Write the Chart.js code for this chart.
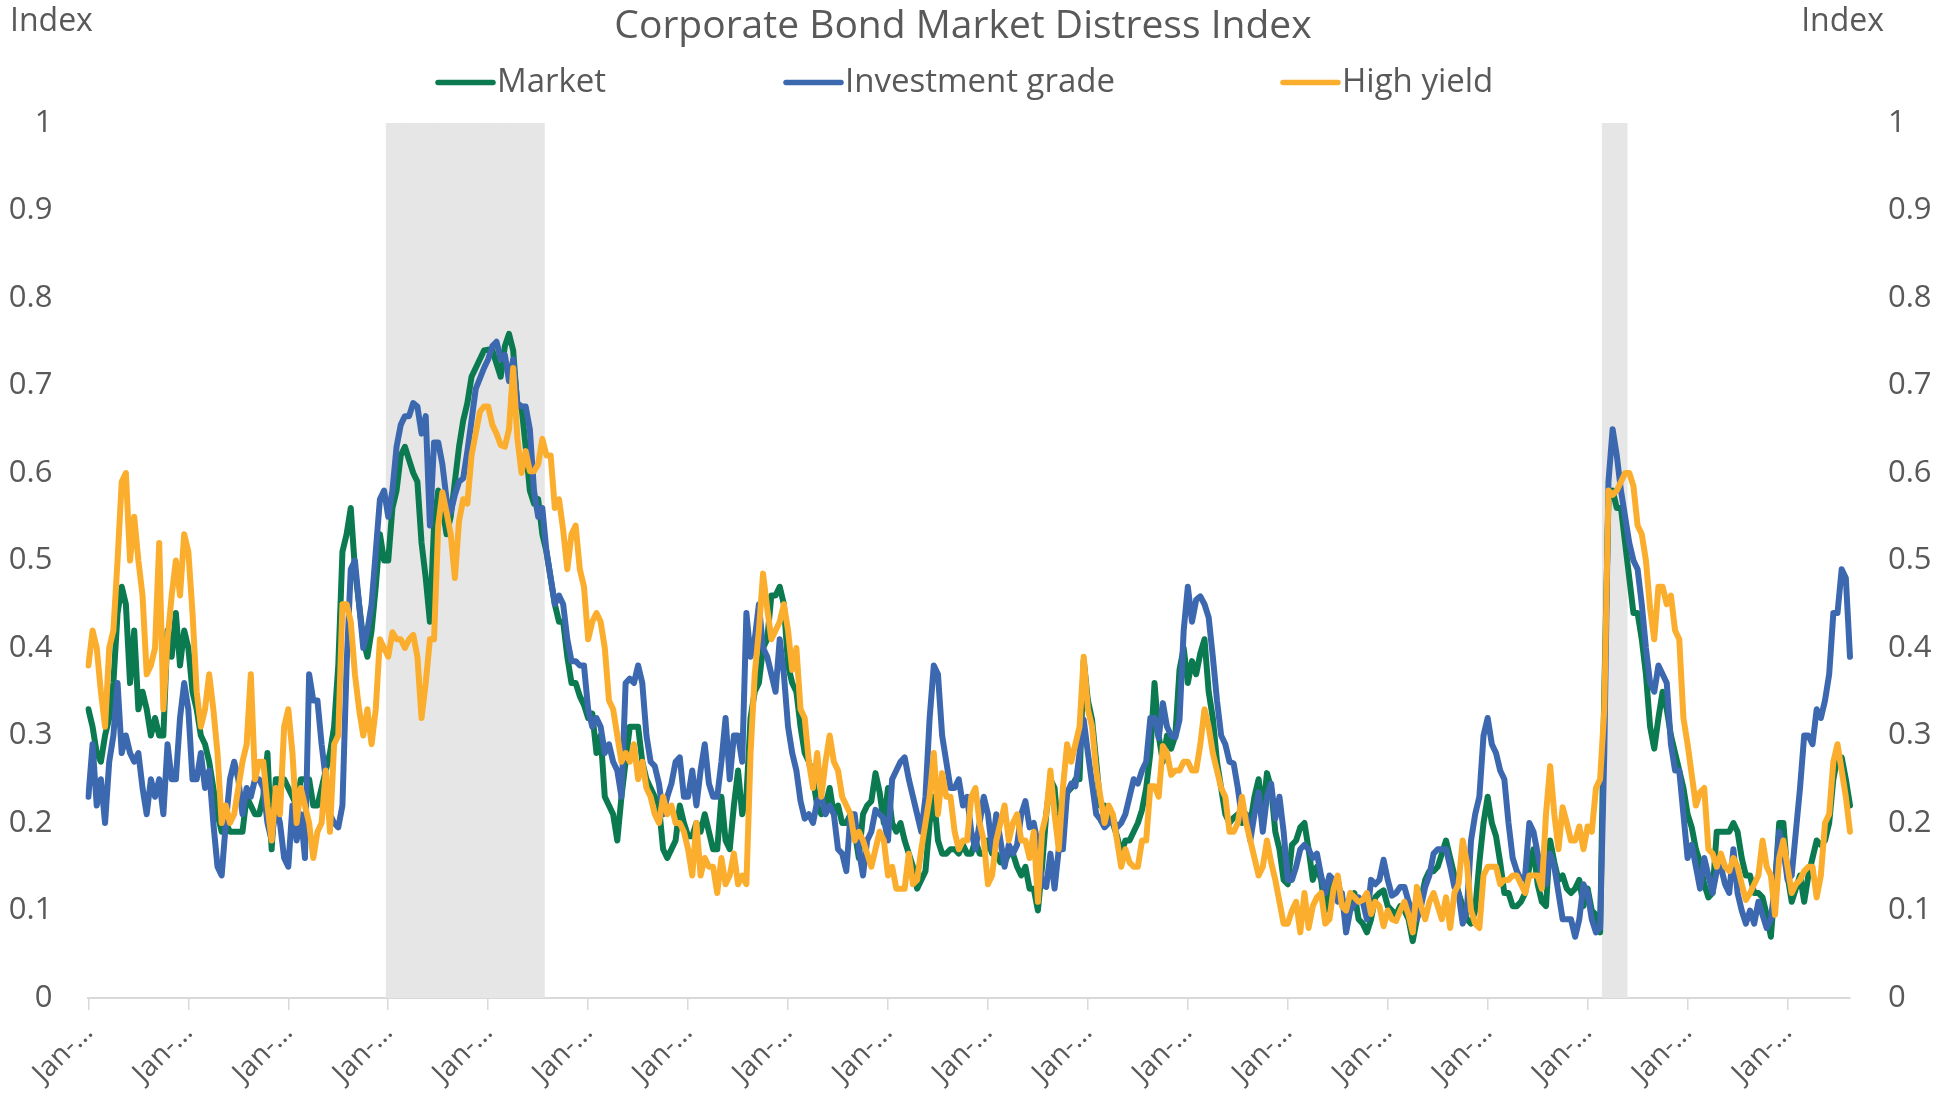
<!DOCTYPE html>
<html>
<head>
<meta charset="utf-8">
<title>Corporate Bond Market Distress Index</title>
<script src="https://cdn.jsdelivr.net/npm/chart.js@4/dist/chart.umd.min.js"></script>
<style>
  html, body { margin: 0; padding: 0; background: #ffffff; }
  #wrap { width: 1934px; height: 1094px; position: relative; }
</style>
</head>
<body>
<div id="wrap"><canvas id="cmdi" width="1934" height="1094"></canvas></div>
<script>
// ---- Text ----
const chartTitle = 'Corporate Bond Market Distress Index';
const axisUnit = 'Index';
const seriesNames = ['Market', 'Investment grade', 'High yield'];
const monthAbbr = ['Jan', 'Feb', 'Mar', 'Apr', 'May', 'Jun', 'Jul', 'Aug', 'Sep', 'Oct', 'Nov', 'Dec'];

// ---- Calendar: semi-monthly observations from January 2005 ----
const years = [2005, 2006, 2007, 2008, 2009, 2010, 2011, 2012, 2013, 2014, 2015, 2016, 2017, 2018, 2019, 2020, 2021, 2022];
const obsDays = [1, 16];

// ---- Recession periods (shaded) ----
const recessions = [['2008-01-01', '2009-07-16'], ['2020-03-01', '2020-05-16']];

// ---- Index values, one row per year ----
const market = [
  0.33,0.31,0.28,0.27,0.30,0.32,0.36,0.44,0.47,0.45,0.36,0.42,0.33,0.35,0.33,0.30,0.32,0.30,0.30,0.42,0.39,0.44,0.38,0.42,
  0.40,0.35,0.33,0.30,0.29,0.27,0.24,0.21,0.19,0.20,0.19,0.19,0.19,0.19,0.23,0.22,0.21,0.21,0.23,0.28,0.17,0.25,0.25,0.25,
  0.24,0.23,0.22,0.25,0.25,0.25,0.22,0.22,0.24,0.26,0.28,0.31,0.38,0.51,0.53,0.56,0.49,0.45,0.41,0.39,0.42,0.47,0.53,0.50,
  0.50,0.56,0.58,0.62,0.63,0.615,0.60,0.59,0.52,0.48,0.43,0.54,0.58,0.56,0.53,0.55,0.59,0.63,0.66,0.68,0.71,0.72,0.73,0.74,
  0.741,0.74,0.725,0.71,0.745,0.759,0.74,0.676,0.676,0.63,0.58,0.565,0.57,0.53,0.51,0.48,0.45,0.43,0.43,0.39,0.36,0.36,0.345,0.335,
  0.32,0.325,0.28,0.30,0.23,0.22,0.21,0.18,0.23,0.27,0.31,0.31,0.31,0.27,0.25,0.24,0.23,0.22,0.17,0.16,0.17,0.18,0.22,0.20,
  0.185,0.185,0.20,0.19,0.21,0.19,0.17,0.17,0.23,0.18,0.17,0.22,0.26,0.21,0.23,0.32,0.35,0.36,0.40,0.41,0.46,0.46,0.47,0.45,
  0.38,0.36,0.35,0.31,0.28,0.27,0.25,0.22,0.21,0.22,0.24,0.21,0.22,0.20,0.20,0.21,0.19,0.16,0.21,0.22,0.225,0.257,0.235,0.20,
  0.24,0.20,0.19,0.20,0.18,0.165,0.15,0.125,0.135,0.145,0.20,0.23,0.18,0.165,0.165,0.17,0.17,0.165,0.175,0.165,0.165,0.18,0.165,0.165,
  0.18,0.165,0.165,0.155,0.155,0.165,0.165,0.15,0.14,0.15,0.125,0.125,0.10,0.15,0.21,0.25,0.24,0.185,0.20,0.235,0.24,0.25,0.25,0.386,
  0.34,0.318,0.27,0.22,0.22,0.21,0.20,0.185,0.165,0.18,0.18,0.19,0.20,0.215,0.24,0.28,0.36,0.30,0.27,0.30,0.285,0.30,0.375,0.40,
  0.36,0.385,0.37,0.394,0.41,0.35,0.32,0.27,0.24,0.21,0.20,0.206,0.21,0.20,0.205,0.20,0.23,0.25,0.21,0.257,0.24,0.19,0.17,0.135,
  0.13,0.175,0.18,0.195,0.20,0.17,0.135,0.15,0.135,0.10,0.12,0.135,0.135,0.11,0.11,0.105,0.12,0.09,0.085,0.075,0.09,0.115,0.12,0.123,
  0.105,0.10,0.095,0.105,0.10,0.09,0.065,0.09,0.113,0.135,0.145,0.145,0.15,0.165,0.18,0.16,0.14,0.12,0.105,0.09,0.085,0.10,0.155,0.20,
  0.23,0.20,0.185,0.155,0.12,0.12,0.105,0.105,0.11,0.12,0.15,0.17,0.13,0.11,0.105,0.18,0.155,0.135,0.14,0.125,0.12,0.125,0.135,0.105,
  0.125,0.10,0.095,0.075,0.35,0.57,0.58,0.56,0.56,0.52,0.48,0.44,0.44,0.41,0.37,0.31,0.285,0.32,0.35,0.33,0.30,0.28,0.26,0.24,
  0.21,0.195,0.17,0.155,0.13,0.115,0.12,0.19,0.19,0.19,0.19,0.20,0.19,0.16,0.14,0.14,0.12,0.12,0.115,0.095,0.07,0.13,0.20,0.20,
  0.14,0.11,0.125,0.14,0.11,0.14,0.16,0.18,0.175,0.18,0.20,0.25,0.275,0.275,0.25,0.22
];

const investmentGrade = [
  0.23,0.29,0.22,0.25,0.20,0.27,0.30,0.36,0.28,0.30,0.28,0.27,0.28,0.24,0.21,0.25,0.23,0.25,0.21,0.29,0.25,0.25,0.32,0.36,
  0.33,0.25,0.25,0.28,0.24,0.26,0.20,0.15,0.14,0.20,0.25,0.27,0.25,0.21,0.24,0.23,0.25,0.25,0.24,0.20,0.18,0.22,0.20,0.16,
  0.15,0.22,0.18,0.21,0.16,0.37,0.34,0.34,0.29,0.25,0.21,0.20,0.195,0.22,0.38,0.49,0.50,0.45,0.40,0.42,0.45,0.51,0.57,0.58,
  0.55,0.58,0.63,0.655,0.665,0.665,0.68,0.676,0.645,0.665,0.54,0.635,0.635,0.61,0.57,0.555,0.575,0.59,0.594,0.625,0.66,0.696,0.708,0.72,
  0.73,0.745,0.75,0.73,0.735,0.705,0.73,0.68,0.676,0.676,0.65,0.58,0.55,0.56,0.51,0.48,0.45,0.46,0.45,0.41,0.385,0.385,0.38,0.38,
  0.33,0.31,0.32,0.31,0.28,0.29,0.27,0.26,0.23,0.36,0.365,0.36,0.38,0.36,0.30,0.27,0.265,0.245,0.21,0.23,0.245,0.27,0.275,0.23,
  0.23,0.26,0.22,0.26,0.29,0.245,0.23,0.23,0.27,0.32,0.25,0.30,0.30,0.27,0.44,0.39,0.41,0.45,0.40,0.39,0.37,0.35,0.41,0.37,
  0.31,0.28,0.26,0.225,0.205,0.21,0.20,0.225,0.23,0.21,0.22,0.21,0.17,0.165,0.145,0.21,0.21,0.17,0.14,0.18,0.19,0.215,0.21,0.205,
  0.18,0.25,0.26,0.27,0.275,0.25,0.23,0.21,0.19,0.23,0.32,0.38,0.37,0.30,0.27,0.24,0.24,0.25,0.22,0.23,0.19,0.17,0.20,0.23,
  0.21,0.17,0.21,0.18,0.15,0.175,0.165,0.175,0.21,0.225,0.195,0.20,0.175,0.13,0.127,0.165,0.125,0.17,0.17,0.234,0.245,0.242,0.28,0.318,
  0.28,0.245,0.21,0.204,0.195,0.20,0.204,0.195,0.20,0.21,0.23,0.25,0.245,0.26,0.27,0.32,0.32,0.297,0.337,0.31,0.30,0.298,0.318,0.42,
  0.47,0.43,0.455,0.459,0.45,0.435,0.39,0.34,0.30,0.29,0.27,0.268,0.24,0.205,0.21,0.18,0.21,0.235,0.19,0.23,0.245,0.205,0.23,0.19,
  0.135,0.135,0.15,0.17,0.175,0.17,0.16,0.165,0.14,0.12,0.14,0.135,0.11,0.12,0.075,0.10,0.107,0.115,0.11,0.09,0.135,0.13,0.135,0.158,
  0.135,0.117,0.12,0.127,0.127,0.11,0.10,0.09,0.105,0.127,0.14,0.165,0.17,0.17,0.17,0.15,0.127,0.12,0.085,0.10,0.18,0.21,0.23,0.30,
  0.32,0.29,0.28,0.26,0.25,0.20,0.16,0.145,0.135,0.14,0.20,0.19,0.165,0.14,0.13,0.165,0.15,0.12,0.09,0.09,0.09,0.07,0.09,0.13,
  0.12,0.09,0.075,0.08,0.28,0.59,0.65,0.62,0.58,0.55,0.52,0.50,0.49,0.45,0.40,0.36,0.35,0.38,0.37,0.36,0.29,0.26,0.26,0.21,
  0.16,0.175,0.15,0.125,0.16,0.14,0.12,0.145,0.15,0.13,0.12,0.17,0.12,0.10,0.085,0.10,0.085,0.11,0.095,0.08,0.09,0.13,0.19,0.17,
  0.135,0.14,0.19,0.24,0.30,0.30,0.29,0.33,0.32,0.34,0.37,0.44,0.44,0.49,0.48,0.39
];

const highYield = [
  0.38,0.42,0.40,0.35,0.31,0.40,0.42,0.50,0.59,0.60,0.50,0.55,0.50,0.46,0.37,0.38,0.40,0.52,0.33,0.41,0.46,0.50,0.46,0.53,
  0.51,0.44,0.35,0.31,0.33,0.37,0.33,0.28,0.20,0.22,0.20,0.21,0.24,0.27,0.29,0.37,0.25,0.27,0.27,0.22,0.18,0.24,0.21,0.31,
  0.33,0.28,0.20,0.24,0.22,0.20,0.16,0.19,0.20,0.26,0.19,0.29,0.30,0.45,0.45,0.43,0.37,0.33,0.30,0.33,0.29,0.33,0.41,0.40,
  0.39,0.418,0.41,0.41,0.40,0.41,0.415,0.39,0.32,0.36,0.41,0.41,0.54,0.578,0.555,0.53,0.48,0.545,0.57,0.565,0.62,0.645,0.67,0.676,
  0.676,0.655,0.645,0.632,0.63,0.65,0.72,0.64,0.60,0.625,0.602,0.602,0.61,0.639,0.62,0.62,0.56,0.57,0.535,0.49,0.53,0.54,0.49,0.47,
  0.41,0.43,0.44,0.43,0.40,0.34,0.33,0.30,0.27,0.28,0.27,0.29,0.25,0.27,0.24,0.23,0.21,0.20,0.23,0.21,0.22,0.20,0.20,0.19,
  0.17,0.14,0.20,0.14,0.16,0.15,0.15,0.12,0.16,0.13,0.14,0.165,0.13,0.14,0.13,0.28,0.37,0.42,0.485,0.445,0.41,0.42,0.43,0.45,
  0.42,0.375,0.40,0.33,0.32,0.27,0.24,0.28,0.23,0.27,0.30,0.27,0.26,0.23,0.22,0.21,0.18,0.19,0.18,0.165,0.15,0.17,0.19,0.18,
  0.14,0.15,0.125,0.125,0.125,0.165,0.13,0.135,0.17,0.20,0.23,0.28,0.21,0.257,0.23,0.23,0.19,0.17,0.18,0.18,0.23,0.24,0.20,0.18,
  0.13,0.14,0.18,0.20,0.22,0.18,0.20,0.21,0.18,0.18,0.16,0.19,0.11,0.19,0.21,0.26,0.21,0.17,0.24,0.29,0.27,0.29,0.31,0.39,
  0.33,0.31,0.26,0.23,0.20,0.22,0.21,0.18,0.15,0.17,0.155,0.15,0.15,0.18,0.18,0.242,0.242,0.23,0.288,0.28,0.255,0.26,0.26,0.27,
  0.27,0.26,0.26,0.29,0.33,0.31,0.28,0.26,0.24,0.23,0.19,0.19,0.20,0.23,0.20,0.18,0.16,0.14,0.15,0.18,0.155,0.135,0.11,0.085,
  0.085,0.10,0.11,0.075,0.12,0.08,0.105,0.115,0.12,0.085,0.09,0.125,0.14,0.105,0.10,0.12,0.115,0.11,0.112,0.12,0.096,0.11,0.105,0.082,
  0.10,0.09,0.088,0.10,0.11,0.095,0.075,0.127,0.105,0.09,0.11,0.12,0.105,0.09,0.115,0.08,0.12,0.13,0.18,0.155,0.10,0.085,0.08,0.14,
  0.15,0.15,0.15,0.13,0.135,0.135,0.14,0.14,0.13,0.12,0.14,0.14,0.14,0.125,0.21,0.265,0.21,0.17,0.218,0.20,0.18,0.18,0.196,0.17,
  0.196,0.19,0.24,0.25,0.33,0.58,0.575,0.58,0.59,0.60,0.60,0.585,0.54,0.53,0.50,0.445,0.41,0.47,0.47,0.45,0.46,0.42,0.41,0.32,
  0.29,0.255,0.22,0.235,0.24,0.17,0.165,0.15,0.165,0.15,0.145,0.16,0.15,0.13,0.112,0.12,0.13,0.14,0.18,0.15,0.14,0.095,0.16,0.18,
  0.15,0.12,0.13,0.135,0.145,0.15,0.15,0.115,0.14,0.20,0.21,0.27,0.29,0.26,0.23,0.19
];

// ---- Build the date categories ----
const pad2 = n => String(n).padStart(2, '0');
const dates = [];
for (const y of years) {
  for (let m = 0; m < 12; m++) {
    for (const d of obsDays) {
      if (dates.length < market.length) dates.push(`${y}-${pad2(m + 1)}-${pad2(d)}`);
    }
  }
}
const recessionBars = dates.map(d => recessions.some(([a, b]) => d >= a && d <= b) ? 1 : null);
const isYearStart = d => d.endsWith('-01-01');

// ---- Style ----
const FONT = '"Open Sans", "Noto Sans", sans-serif';
const TEXT = '#595959';
const AXIS = '#D9D9D9';
const colors = { market: '#0B7A50', ig: '#3C68B0', hy: '#FBAE2D', shade: '#E6E6E6' };

// Title, unit labels and legend drawn around the plot area
const frameText = {
  id: 'frameText',
  afterDraw(chart) {
    const { ctx } = chart;
    ctx.save();
    ctx.fillStyle = TEXT;
    ctx.textBaseline = 'middle';

    ctx.font = `39px ${FONT}`;
    ctx.textAlign = 'center';
    ctx.fillText(chartTitle, 963, 26.5);

    ctx.font = `32px ${FONT}`;
    ctx.textAlign = 'left';
    ctx.fillText(axisUnit, 10, 21.5);
    ctx.textAlign = 'right';
    ctx.fillText(axisUnit, 1884, 21.5);

    const slots = [438, 786, 1283];
    const sampleLen = 55;
    const legendY = 82.5;
    ctx.font = `33px ${FONT}`;
    const lines = chart.data.datasets.filter(ds => ds.type === 'line');
    lines.forEach((ds, i) => {
      const x = slots[i];
      ctx.beginPath();
      ctx.strokeStyle = ds.borderColor;
      ctx.lineWidth = 5.5;
      ctx.lineCap = 'round';
      ctx.moveTo(x, legendY);
      ctx.lineTo(x + sampleLen, legendY);
      ctx.stroke();
      ctx.fillStyle = TEXT;
      ctx.textAlign = 'left';
      ctx.fillText(ds.label, x + sampleLen + 4, legendY);
    });
    ctx.restore();
  }
};

const lineStyle = {
  type: 'line',
  borderWidth: 6,
  pointRadius: 0,
  pointHoverRadius: 0,
  tension: 0,
  fill: false,
  borderJoinStyle: 'round',
  borderCapStyle: 'round',
  yAxisID: 'y'
};

const valueTicks = {
  stepSize: 0.1,
  color: TEXT,
  font: { family: FONT, size: 31 },
  callback: v => String(Math.round(v * 10) / 10)
};

new Chart(document.getElementById('cmdi'), {
  type: 'line',
  data: {
    labels: dates,
    datasets: [
      { ...lineStyle, label: seriesNames[0], data: market, borderColor: colors.market, order: 3 },
      { ...lineStyle, label: seriesNames[1], data: investmentGrade, borderColor: colors.ig, order: 2 },
      { ...lineStyle, label: seriesNames[2], data: highYield, borderColor: colors.hy, order: 1 },
      {
        type: 'bar', label: 'Recession', data: recessionBars, yAxisID: 'y2',
        backgroundColor: colors.shade, borderWidth: 0,
        barPercentage: 1, categoryPercentage: 1, order: 10
      }
    ]
  },
  options: {
    responsive: false,
    animation: false,
    events: [],
    layout: { padding: { top: 123, left: 0, right: 0, bottom: 0 } },
    plugins: { legend: { display: false }, title: { display: false }, tooltip: { enabled: false } },
    scales: {
      x: {
        type: 'category',
        offset: false,
        grid: {
          display: true, offset: false, drawOnChartArea: false, drawTicks: true, tickLength: 12,
          lineWidth: 1.5,
          color: ctx => (ctx.index !== undefined && isYearStart(dates[ctx.index])) ? AXIS : 'rgba(0,0,0,0)'
        },
        border: { display: true, color: AXIS, width: 2 },
        ticks: {
          autoSkip: false, maxRotation: 45, minRotation: 45, padding: 6,
          color: TEXT, font: { family: FONT, size: 28 },
          callback(v) {
            const d = this.getLabelForValue(v);
            return isYearStart(d) ? `${monthAbbr[0]}-…` : '';
          }
        },
        afterFit(s) { s.height = 96; }
      },
      y: {
        position: 'left', min: 0, max: 1,
        grid: { display: false, drawTicks: false },
        border: { display: false },
        ticks: { ...valueTicks, padding: 36 },
        afterFit(s) { s.width = 88.4; }
      },
      y2: {
        position: 'right', min: 0, max: 1,
        grid: { display: false, drawTicks: false },
        border: { display: false },
        ticks: { ...valueTicks, padding: 38 },
        afterFit(s) { s.width = 84; }
      }
    }
  },
  plugins: [frameText]
});
</script>
</body>
</html>
